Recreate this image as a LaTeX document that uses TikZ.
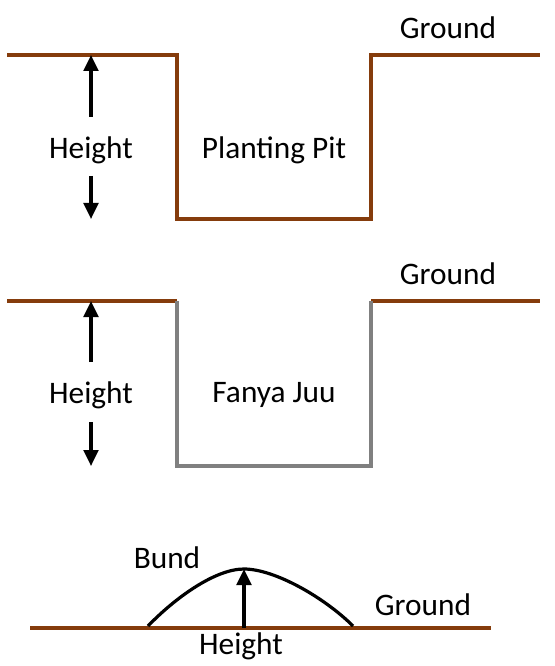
\documentclass[tikz,border=0pt]{standalone}
\usepackage{fontspec}
\setmainfont{Carlito}
\usetikzlibrary{positioning,arrows.meta}
\definecolor{soil}{RGB}{133,60,12}
\definecolor{wall}{RGB}{128,128,128}

\begin{document}
\begin{tikzpicture}[
    x=0.75pt, y=-0.75pt,
    ground/.style={draw=soil, line width=2.4pt},
    pitwall/.style={draw=wall, line width=2.4pt},
    label/.style={inner sep=0pt, font=\fontsize{23.5}{28}\selectfont},
    arrow/.style={-{Triangle[length=12pt, width=11pt]}, line width=2.4pt}
]
\useasboundingbox (0,0) rectangle (555,666);

% planting pit
\coordinate (pa) at (7,55);
\coordinate (pb) at (177,55);
\coordinate (pc) at (177,219);
\coordinate (pd) at (371,219);
\coordinate (pe) at (371,55);
\coordinate (pf) at (540,55);
\draw[ground] (pa) -- (pb) -- (pc) -- (pd) -- (pe) -- (pf);
\node[label] (pground) at (448,28) {Ground};
\node[label] (pitname) at (274,150) {Planting Pit};
\node[label] (pheight) at (91,150) {Height};
\coordinate (pup) at (91,117);
\coordinate (ptop) at (91,55);
\coordinate (pdown) at (91,176);
\coordinate (pbot) at (91,219);
\draw[arrow] (pup) -- (ptop);
\draw[arrow] (pdown) -- (pbot);

% fanya juu
\coordinate (fa) at (7,301);
\coordinate (fb) at (177,301);
\coordinate (fc) at (177,466);
\coordinate (fd) at (371,466);
\coordinate (fe) at (371,301);
\coordinate (ff) at (540,301);
\draw[ground] (fa) -- (fb);
\draw[ground] (fe) -- (ff);
\draw[pitwall] (fb) -- (fc) -- (fd) -- (fe);
\node[label] (fground) at (448,274) {Ground};
\node[label] (fanyaname) at (274,395) {Fanya Juu};
\node[label] (fheight) at (91,395) {Height};
\coordinate (fup) at (91,362);
\coordinate (ftop) at (91,301);
\coordinate (fdown) at (91,422);
\coordinate (fbot) at (91,466);
\draw[arrow] (fup) -- (ftop);
\draw[arrow] (fdown) -- (fbot);

% bund
\coordinate (ba) at (30,628);
\coordinate (bb) at (491,628);
\coordinate (bl) at (148,626);
\coordinate (bpeak) at (244,569);
\coordinate (br) at (353,626);
\coordinate (bfoot) at (244,628);
\draw[ground] (ba) -- (bb);
\draw[line width=2.4pt] (bl) .. controls (175,598) and (215,569) .. (bpeak)
    .. controls (275,569) and (325,598) .. (br);
\draw[arrow] (bfoot) -- (bpeak);
\node[label] (bundname) at (167,558) {Bund};
\node[label] (bheight) at (241,646) {Height};
\node[label] (bground) at (423,605) {Ground};
\end{tikzpicture}
\end{document}
